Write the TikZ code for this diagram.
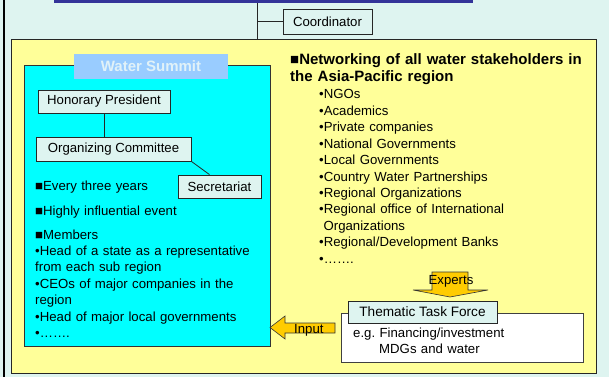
\documentclass[tikz,border=0pt]{standalone}
\usepackage{fontspec}
\setmainfont{Liberation Sans}
\usetikzlibrary{positioning}
\definecolor{page_bg}{RGB}{222,244,240}
\definecolor{bar_blue}{RGB}{51,51,153}
\definecolor{box_yellow}{RGB}{255,255,153}
\definecolor{summit_cyan}{RGB}{0,255,255}
\definecolor{label_blue}{RGB}{153,204,255}
\definecolor{label_text}{RGB}{225,242,248}
\definecolor{head_cyan}{RGB}{222,244,240}
\definecolor{arrow_gold}{RGB}{255,204,0}

\begin{document}
\begin{tikzpicture}[x=1pt,y=-1pt,font=\fontsize{13.2}{16.4}\selectfont]
    \tikzstyle{box}=[draw=black!85, rectangle, inner sep=0pt, fill=head_cyan, text=black, line width=0.8pt]
    \tikzstyle{txt}=[anchor=base west, inner sep=0pt, align=left, text width=300pt]
    \tikzstyle{arrowbox}=[draw=black!80, fill=arrow_gold, line width=0.6pt]

    % page
    \fill[page_bg] (0,0) rectangle (609,377);
    \useasboundingbox (0,0) rectangle (609,377);
    \fill[black] (3,0) rectangle (5,377);

    \node[fill=bar_blue, minimum width=419pt, minimum height=3pt, inner sep=0pt] (bar) at (263.5,1.5) {};
    \node[box, minimum width=89pt, minimum height=25pt] (coord) at (327.5,21.5) {Coordinator};
    \coordinate (j) at (257,21.5);

    % yellow frame and water summit
    \node[draw=black!85, fill=box_yellow, line width=1pt, minimum width=585pt, minimum height=333pt] (yel) at (303.5,206.5) {};
    \node[draw=black!80, fill=summit_cyan, line width=0.7pt, minimum width=246pt, minimum height=281pt] (summit) at (147,205.5) {};
    \node[fill=label_blue, text=label_text, font=\fontsize{15}{17}\selectfont\bfseries, minimum width=154pt, minimum height=25pt, inner sep=0pt] (title) at (151,66.5) {Water Summit};

    \node[box, minimum width=132pt, minimum height=23pt] (hp) at (104,101.5) {Honorary President};
    \node[box, minimum width=155pt, minimum height=24pt] (oc) at (113.5,149) {Organizing Committee};
    \node[box, minimum width=83pt, minimum height=23pt] (sec) at (219.5,186.5) {Secretariat};

    \node[txt] (every) at (35,190) {■Every three years};
    \node[txt] (influ) at (35,215) {■Highly influential event};
    \node[txt] (members) at (35,239) {■Members\\
      •Head of a state as a representative\\
      from each sub region\\
      •CEOs of major companies in the\\
      region\\
      •Head of major local governments\\
      •…….};

    % networking list
    \node[txt, font=\fontsize{15}{17}\selectfont\bfseries] (net) at (290,65) {■Networking of all water stakeholders in\\the Asia-Pacific region};
    \node[txt] (list) at (319,99) {•NGOs\\
      •Academics\\
      •Private companies\\
      •National Governments\\
      •Local Governments\\
      •Country Water Partnerships\\
      •Regional Organizations\\
      •Regional office of International\\
      \ Organizations\\
      •Regional/Development Banks\\
      •…….};

    % thematic task force
    \draw[arrowbox] (432,272) -- (468,272) -- (468,290) -- (488,290) -- (450,297) -- (413,290) -- (432,290) -- cycle;
    \node[inner sep=0pt, anchor=base] (experts) at (451,284) {Experts};

    \node[draw=black!75, fill=white, line width=0.8pt, minimum width=242pt, minimum height=49pt] (ttf) at (462,337.5) {};
    \node[box, minimum width=149pt, minimum height=22pt, font=\fontsize{13.6}{16}\selectfont] (ttfhead) at (422.5,312) {Thematic Task Force};
    \node[txt] (eg) at (353,337) {e.g.\ Financing/investment\\
      \hspace{26pt}MDGs and water};

    \draw[arrowbox] (335,323) -- (285,323) -- (285,316) -- (270,327.5) -- (285,339) -- (285,333) -- (335,333) -- cycle;
    \node[inner sep=0pt, anchor=base west] (input) at (294,333) {Input};

    \path[draw=black!85, line width=0.8pt]
     (bar.south -| j) edge (yel.north -| j)
     (j) edge (coord.west)
     (hp.south) edge (hp.south |- oc.north)
     (oc.south east) edge ([xshift=-10pt]sec.north)
     ;
\end{tikzpicture}
\end{document}
